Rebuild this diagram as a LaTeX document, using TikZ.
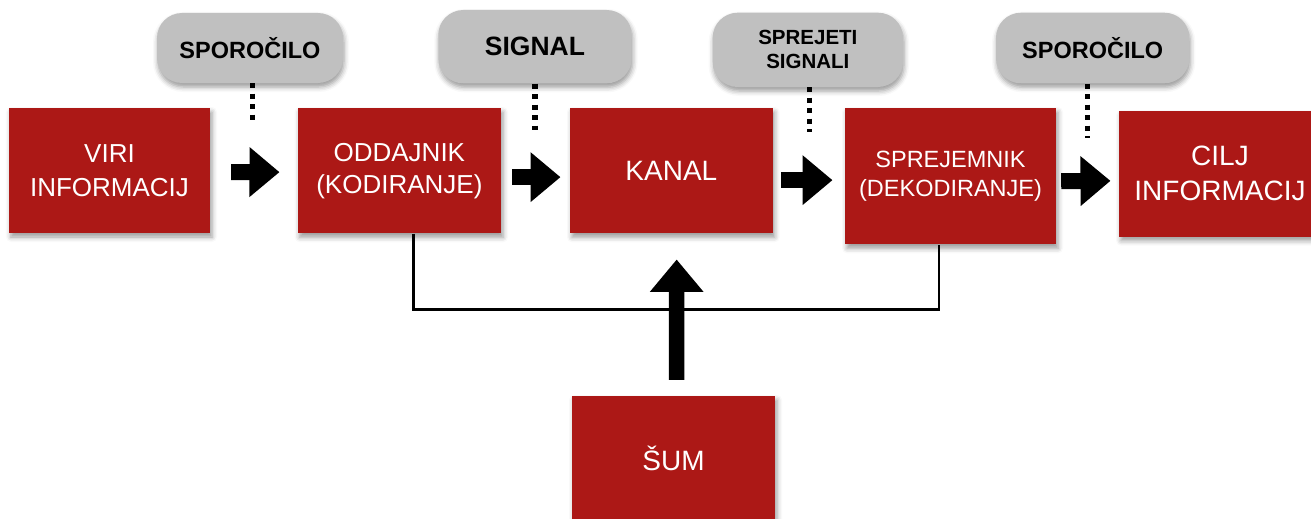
\documentclass[tikz,border=0pt]{standalone}
\usepackage{fontspec}
\setmainfont{Liberation Sans}
\usetikzlibrary{arrows.meta,shadows.blur}
\definecolor{boxred}{RGB}{172,24,22}
\definecolor{pillgray}{RGB}{192,192,192}
\begin{document}
\begin{tikzpicture}[x=1pt,y=-1pt,
  redbox/.style={rectangle, fill=boxred, text=white, inner sep=0pt, align=center,
    blur shadow={shadow xshift=2pt, shadow yshift=-4pt, shadow blur radius=5pt, shadow opacity=40}},
  pill/.style={rectangle, rounded corners=25pt, fill=pillgray, text=black, inner sep=0pt, align=center,
    blur shadow={shadow xshift=1pt, shadow yshift=-4pt, shadow blur radius=5pt, shadow opacity=40}},
  dotline/.style={line width=5.2pt, dash pattern=on 5pt off 5.5pt},
  blockarrow/.style={line width=16pt, -{Triangle[width=48pt,length=30pt]}},
  uparrow/.style={line width=15.5pt, -{Triangle[width=51.6pt,length=32.4pt]}},
  fbline/.style={line width=2.4pt}
]
\clip (0,0) rectangle (1311,519);
\useasboundingbox (0,0) rectangle (1311,519);

% pills
\node[pill, minimum width=186pt, minimum height=70pt, font=\bfseries\fontsize{23.5}{27}\selectfont] (p1) at (250,48) {SPOROČILO};
\node[pill, minimum width=193.4pt, minimum height=73.3pt, font=\bfseries\fontsize{26.5}{30}\selectfont] (p2) at (535,46.65) {SIGNAL};
\node[pill, minimum width=190.3pt, minimum height=74.3pt, font=\bfseries\fontsize{20.5}{24}\selectfont] (p3) at (807.85,49.85) {SPREJETI\\SIGNALI};
\node[pill, minimum width=193.3pt, minimum height=70.6pt, font=\bfseries\fontsize{23.5}{27}\selectfont] (p4) at (1092.65,48) {SPOROČILO};

% dotted connectors
\coordinate (d1) at ([xshift=2.3pt,yshift=-38pt]p1.south);
\coordinate (d2) at ([yshift=-46pt]p2.south);
\coordinate (d3) at ([xshift=2pt,yshift=-45pt]p3.south);
\coordinate (d4) at ([xshift=-5pt,yshift=-54pt]p4.south);
\draw[dotline] ([xshift=2.3pt]p1.south) -- (d1);
\draw[dotline] (p2.south) -- (d2);
\draw[dotline] ([xshift=2pt]p3.south) -- (d3);
\draw[dotline] ([xshift=-5pt]p4.south) -- (d4);

% boxes
\node[redbox, minimum width=201pt, minimum height=125pt, font=\fontsize{26}{34}\selectfont] (b1) at (109.5,170.5) {VIRI\\INFORMACIJ};
\node[redbox, minimum width=203.3pt, minimum height=125.3pt, font=\fontsize{26}{32}\selectfont] (b2) at (399.35,170.65) {ODDAJNIK\\(KODIRANJE)};
\node[redbox, minimum width=202.7pt, minimum height=125.3pt, font=\fontsize{28}{34}\selectfont] (b3) at (671.35,170.65) {KANAL};
\node[redbox, minimum width=211pt, minimum height=136.3pt, font=\fontsize{23.5}{29}\selectfont] (b4) at (950.5,176.15) {SPREJEMNIK\\(DEKODIRANJE)};
\node[redbox, minimum width=202pt, minimum height=125.7pt, font=\fontsize{28}{35}\selectfont] (b5) at (1220,173.85) {CILJ\\INFORMACIJ};
\node[redbox, minimum width=203pt, minimum height=125pt, font=\fontsize{28}{34}\selectfont] (sum) at (673.5,458.5) {ŠUM};

% feedback line
\draw[fbline] ([xshift=14.3pt]b2.south) -- ++(0,76) -| ([xshift=-11.5pt]b4.south);

% block arrows
\draw[blockarrow] ([xshift=21pt,yshift=-1.5pt]b1.east) -- ([xshift=-18pt,yshift=-1.5pt]b2.west);
\draw[blockarrow] ([xshift=11pt,yshift=-6.5pt]b2.east) -- ([xshift=-9.3pt,yshift=-6.5pt]b3.west);
\draw[blockarrow] ([xshift=8pt,yshift=-9.5pt]b3.east) -- ([xshift=-12.3pt,yshift=-4pt]b4.west);
\draw[blockarrow] ([xshift=5pt,yshift=-5pt]b4.east) -- ([xshift=-8.3pt,yshift=-7pt]b5.west);
\draw[uparrow] ([xshift=3.2pt,yshift=16pt]sum.north) -- ([xshift=5.3pt,yshift=-26pt]b3.south);
\end{tikzpicture}
\end{document}
